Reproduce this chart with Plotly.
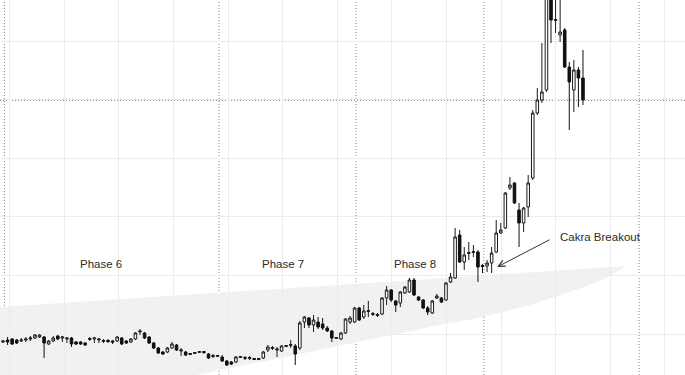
import plotly.graph_objects as go

# OHLC values (price units = chart scale)
open_ = [33, 35, 36, 35, 34, 35, 36, 37, 38, 38, 31, 34, 39, 37, 36, 37, 33, 33, 32, 35.5,
         36, 35, 33.5, 34.5, 34, 34, 37, 34, 33, 36, 43, 42, 38, 32, 27, 23, 23, 27, 30, 24,
         23, 20.5, 21.5, 22.5, 23.5, 21, 18.5, 18.5, 18, 14, 13, 13, 17.5, 16.5, 16.5, 16.5, 16.5, 17, 25, 26.5,
         25, 24, 28.5, 29.5, 29, 27, 53, 57, 50, 53, 51, 47, 44, 36.5, 36, 42, 53, 53, 67, 58,
         63.5, 60.5, 59.5, 61, 77, 85, 74, 72, 82, 83, 95, 78, 75, 67, 62, 77, 77, 75, 93, 97,
         140, 113, 121.5, 122.5, 123, 109.5, 109, 112, 123, 142, 147, 187, 192, 165, 152, 168, 197, 262, 275, 285,
         385, 354.5, 340, 345, 308, 285, 305, 297]
high = [35, 38, 37, 36, 37, 38, 39, 41, 41, 39, 35, 39, 40, 39, 38, 38, 34, 34, 33, 38,
        38, 37, 36, 36, 35, 39, 38, 35, 37, 43, 46, 43, 39, 33, 28, 24, 28, 33, 31, 27,
        24, 22, 23, 24, 24, 22, 21, 20, 20, 15, 14, 19, 19, 19, 19, 17, 17, 24, 30, 29,
        28, 30, 30, 35, 31, 54, 59, 58, 60, 58, 57, 49, 45, 38, 43, 57, 59, 68, 68, 70,
        74, 63, 62, 78, 89, 86, 75, 84, 89, 97, 97, 79, 76, 69, 75, 81, 78, 93, 102, 147,
        145, 128, 133, 130, 125, 111, 115, 128, 155, 152, 183, 198, 193, 172, 168, 200, 265, 287, 332, 405,
        410, 395, 380, 347, 313, 315, 308, 325]
low = [32, 30, 30, 31, 33, 33, 34, 36, 37, 17, 30, 33, 35, 33, 32, 28, 30, 30, 29, 34,
       32, 32, 32, 32, 31, 33, 30, 31, 32, 35, 40, 36, 31, 26, 21, 20, 22, 26, 24, 19,
       19, 20, 21, 22, 21, 16, 17, 18, 13, 9, 10, 12, 17, 15, 15, 15, 15, 16, 23, 25,
       18, 23, 28, 27, 10, 25, 47, 47, 43, 46, 45, 43, 33, 36, 35, 41, 51, 52, 54, 56,
       58, 59, 58, 60, 70, 73, 63, 68, 81, 82, 79, 74, 66, 60, 61, 76, 72, 74, 92, 96,
       112, 105, 115, 118, 93, 102, 103, 102, 122, 141, 146, 185, 171, 128, 143, 158, 195, 260, 272, 283,
       332, 342, 333, 307, 245, 263, 268, 270]
close = [34, 33, 31, 32, 35, 36, 37, 40, 40, 32, 34, 37, 36, 38, 37, 31, 31, 31, 30, 36.5,
         37, 36, 34.5, 33.5, 33, 38, 31, 32, 36, 42, 44, 37, 32, 27, 22, 21, 27, 31, 25, 25,
         20, 21.5, 22.5, 23.5, 22.5, 17, 19.5, 19.5, 14, 10, 11, 18, 18.5, 17.5, 17.5, 15.5, 15.5, 23, 28, 27.5,
         26, 29, 29.5, 30.5, 21, 52, 58, 50, 55, 48, 47, 44, 37, 37.5, 42, 56, 57, 67, 55, 64,
         64.5, 61.5, 60.5, 77, 85, 75, 70, 83, 88, 95, 80, 75, 67, 63, 74, 79, 73, 92, 98, 138,
         113, 120, 122.5, 123.5, 108, 108.5, 112, 122, 142, 145, 182, 190, 172, 152, 167, 192, 262, 275, 283, 390,
         355, 355.5, 343, 308, 293, 305, 297, 275]
idx = list(range(len(open_)))

# annotation texts
phase_labels = ["Phase 6", "Phase 7", "Phase 8"]
phase_x = [21.5, 61.3, 90.2]
breakout_label = "Cakra Breakout"
separators = [0.31, 47.3, 77.3, 105.3, 139.3]
ref_level = 274.5

X0, X1 = -0.657, 149.34

fig = go.Figure()

fig.add_trace(go.Candlestick(
    x=idx, open=open_, high=high, low=low, close=close,
    increasing=dict(line=dict(color="#1a1a1a", width=1), fillcolor="#ffffff"),
    decreasing=dict(line=dict(color="#111111", width=1), fillcolor="#111111"),
    whiskerwidth=0, showlegend=False, hoverinfo="skip"))

# shaded wedge
wedge = ("M -0.66,68 L 136.6,109 L 133.5,101 L 130.7,94 L 123.5,82 L 115.4,70 "
         "L 105.1,58 L 95.7,50 L 76.6,32 L 62.9,19 L 47.5,5 L 32.2,-10 L -0.66,-40 Z")
shapes = [dict(type="path", path=wedge, xref="x", yref="y", fillcolor="#f1f1f1",
               line=dict(width=0), layer="below")]
dotstyle = dict(color="#8a8a8a", width=1, dash="1px,2px")
for s in separators:
    shapes.append(dict(type="line", xref="x", yref="paper", x0=s, x1=s, y0=0, y1=1,
                       line=dotstyle, layer="below"))
shapes.append(dict(type="line", xref="paper", yref="y", x0=0, x1=1, y0=ref_level, y1=ref_level,
                   line=dotstyle, layer="below"))

font = dict(family="Liberation Sans, Arial, sans-serif", size=11.5, color="#2b2b2b")
annotations = []
for lab, px in zip(phase_labels, phase_x):
    annotations.append(dict(x=px, y=111, xref="x", yref="y", text=lab, showarrow=False,
                            font=font, xanchor="center", yanchor="middle"))
annotations.append(dict(x=121.5, y=138, xref="x", yref="y", text=breakout_label, showarrow=False,
                        font=font, xanchor="left", yanchor="middle"))
annotations.append(dict(x=108.2, y=108, xref="x", yref="y", ax=120.0, ay=136, axref="x", ayref="y",
                        text="", showarrow=True, arrowhead=5, arrowsize=1.3, arrowwidth=1,
                        arrowcolor="#333333"))

fig.update_layout(
    width=685, height=375, margin=dict(l=0, r=0, t=0, b=0),
    paper_bgcolor="white", plot_bgcolor="white", boxgap=0.2,
    shapes=shapes, annotations=annotations, showlegend=False,
    xaxis=dict(range=[X0, X1], showticklabels=False, rangeslider=dict(visible=False),
               showgrid=True, gridcolor="#ececec", gridwidth=1, tick0=1.445, dtick=11.956,
               zeroline=False, showline=False, ticks=""),
    yaxis=dict(range=[0, 375], showticklabels=False, showgrid=True, gridcolor="#ececec",
               gridwidth=1, tick0=41, dtick=58.6, zeroline=False, showline=False, ticks=""),
)

fig.write_html("out.html")
